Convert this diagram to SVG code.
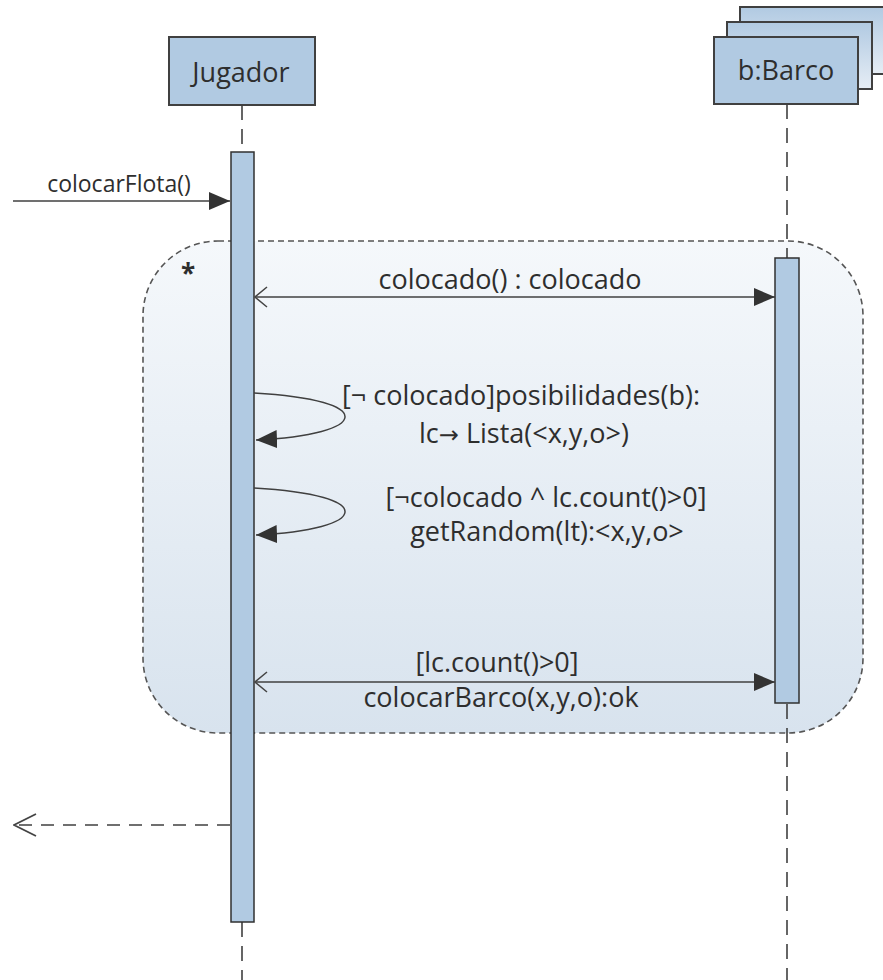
<svg xmlns="http://www.w3.org/2000/svg" width="883" height="980" viewBox="0 0 883 980">
<defs>
<style>
.box{fill:#b1cae2;stroke:#404040;stroke-width:2}
.act{fill:#b1cae2;stroke:#303030;stroke-width:1.5}
.life{stroke:#404040;stroke-width:1.6;stroke-dasharray:15 9;fill:none}
.msg{stroke:#404040;stroke-width:1.5;fill:none}
.ret{stroke:#404040;stroke-width:1.5;fill:none;stroke-dasharray:13 9}
.frame{stroke:#555;stroke-width:1.6;stroke-dasharray:6 4;fill:url(#fg)}
text{font-family:"Open Sans","Liberation Sans",sans-serif;fill:#2e2e2e;text-anchor:middle}
.t{font-size:27px}
.s{font-size:23px}
</style>
<linearGradient id="fg" x1="0" y1="0" x2="0" y2="1">
<stop offset="0" stop-color="#f5f8fb"/>
<stop offset="1" stop-color="#d8e3ee"/>
</linearGradient>
<linearGradient id="bg" x1="0" y1="0" x2="0" y2="1">
<stop offset="0" stop-color="#b1cae2"/>
<stop offset="1" stop-color="#e6edf5"/>
</linearGradient>
<marker id="fill" viewBox="0 0 21 18" refX="21" refY="9" markerWidth="21" markerHeight="18" markerUnits="userSpaceOnUse" orient="auto">
<path d="M0,0 L21,9 L0,18 z" fill="#333"/>
</marker>
<marker id="open" viewBox="-14 -11 15 22" refX="0" refY="0" markerWidth="15" markerHeight="22" markerUnits="userSpaceOnUse" orient="auto-start-reverse">
<path d="M-12,-10 L0,0 L-12,10" fill="none" stroke="#444" stroke-width="1.5"/>
</marker>
<marker id="openb" viewBox="-24 -12 25 24" refX="0" refY="0" markerWidth="25" markerHeight="24" markerUnits="userSpaceOnUse" orient="auto">
<path d="M-22,-11 L0,0 L-22,11" fill="none" stroke="#444" stroke-width="1.8"/>
</marker>
</defs>

<g id="loop">
<rect class="frame" x="143" y="241" width="720" height="492" rx="75" ry="75"/>
<text x="188" y="283" style="font-size:26px;font-weight:bold">*</text>
</g>

<g id="jugador">
<rect class="box" x="169" y="37" width="146" height="68"/>
<text class="t" x="241" y="82">Jugador</text>
<line class="life" x1="242" y1="105" x2="242" y2="152"/>
<line class="life" x1="242" y1="922" x2="242" y2="980"/>
<rect class="act" x="231" y="152" width="23" height="770"/>
</g>

<g id="barco">
<rect x="740" y="7" width="146" height="67" fill="url(#bg)" stroke="#404040" stroke-width="2"/>
<rect x="727" y="22" width="145" height="67" fill="url(#bg)" stroke="#404040" stroke-width="2"/>
<rect class="box" x="714" y="37" width="144" height="67"/>
<text class="t" x="786" y="80">b:Barco</text>
<line class="life" x1="787" y1="104" x2="787" y2="980"/>
<rect class="act" x="775" y="258" width="24" height="445"/>
</g>

<g id="connectors">
<line class="msg" x1="13" y1="201" x2="230" y2="201" marker-end="url(#fill)"/>
<line class="msg" x1="255" y1="297" x2="775" y2="297" marker-start="url(#open)" marker-end="url(#fill)"/>
<path class="msg" d="M254,393 C380,400 370,435 256,440" marker-end="url(#fill)"/>
<path class="msg" d="M254,488 C380,495 370,530 256,535" marker-end="url(#fill)"/>
<line class="msg" x1="255" y1="682" x2="775" y2="682" marker-start="url(#open)" marker-end="url(#fill)"/>
<line class="ret" x1="230" y1="825" x2="14" y2="825" marker-end="url(#openb)"/>
</g>

<g id="labels">
<text class="s" x="119" y="192">colocarFlota()</text>
<text class="t" x="510" y="289">colocado() : colocado</text>
<text class="t" x="521" y="405">[¬ colocado]posibilidades(b):</text>
<text class="t" x="524" y="443">lc<tspan style="font-family:'DejaVu Sans',sans-serif;font-size:24px">→</tspan> Lista(&lt;x,y,o&gt;)</text>
<text class="t" x="546" y="507">[¬colocado ^ lc.count()&gt;0]</text>
<text class="t" x="547" y="541">getRandom(lt):&lt;x,y,o&gt;</text>
<text class="t" x="497" y="672">[lc.count()&gt;0]</text>
<text class="t" x="501" y="707">colocarBarco(x,y,o):ok</text>
</g>
</svg>
